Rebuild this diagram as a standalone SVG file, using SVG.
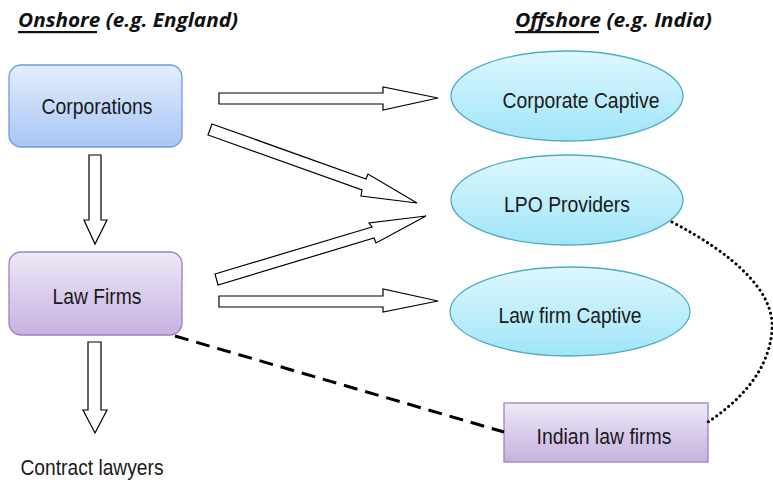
<svg xmlns="http://www.w3.org/2000/svg" width="773" height="486" viewBox="0 0 773 486">
<defs>
<linearGradient id="gBlue" x1="0" y1="0" x2="0" y2="1"><stop offset="0" stop-color="#e3edfd"/><stop offset="1" stop-color="#a8c6f6"/></linearGradient>
<linearGradient id="gPurple" x1="0" y1="0" x2="0" y2="1"><stop offset="0" stop-color="#efe9f7"/><stop offset="1" stop-color="#c6b1e0"/></linearGradient>
<linearGradient id="gCyan" x1="0" y1="0" x2="0" y2="1"><stop offset="0" stop-color="#def7fe"/><stop offset="1" stop-color="#a0e5f8"/></linearGradient>
<style>
.lbl{font-family:"Liberation Sans Narrow","Liberation Sans",Arial,sans-serif;font-size:22px;fill:#1a1a1a;text-anchor:middle}
.hdr{font-family:"Open Sans","DejaVu Sans",sans-serif;font-size:19px;font-weight:bold;font-style:italic;fill:#111}
.blk{fill:#fff;stroke:#000;stroke-width:1.2;stroke-linejoin:miter}
.ell{fill:url(#gCyan);stroke:#4bacc6;stroke-width:1.3}
</style>
</defs>

<g id="headers">
<text class="hdr" x="18" y="27" textLength="220" lengthAdjust="spacingAndGlyphs">Onshore (e.g. England)</text>
<rect x="18" y="31" width="79" height="2.2" fill="#111"/>
<text class="hdr" x="515" y="27" textLength="197" lengthAdjust="spacingAndGlyphs">Offshore (e.g. India)</text>
<rect x="515" y="31" width="84" height="2.2" fill="#111"/>
</g>

<g id="corporations">
<rect x="9" y="65" width="173" height="82" rx="12" fill="url(#gBlue)" stroke="#6f9bd9" stroke-width="1.3"/>
<text class="lbl" x="97" y="114" textLength="111" lengthAdjust="spacingAndGlyphs">Corporations</text>
</g>

<g id="lawfirms">
<rect x="9" y="252" width="173" height="83" rx="12" fill="url(#gPurple)" stroke="#9b81c6" stroke-width="1.3"/>
<text class="lbl" x="97" y="304" textLength="89" lengthAdjust="spacingAndGlyphs">Law Firms</text>
</g>

<g id="contract-lawyers">
<text class="lbl" x="92" y="475" textLength="143" lengthAdjust="spacingAndGlyphs">Contract lawyers</text>
</g>

<g id="corporate-captive">
<ellipse class="ell" cx="567" cy="96" rx="116" ry="45"/>
<text class="lbl" x="581" y="108" textLength="157" lengthAdjust="spacingAndGlyphs">Corporate Captive</text>
</g>

<g id="lpo-providers">
<ellipse class="ell" cx="567" cy="200" rx="116" ry="45"/>
<text class="lbl" x="567" y="212" textLength="126" lengthAdjust="spacingAndGlyphs">LPO Providers</text>
</g>

<g id="lawfirm-captive">
<ellipse class="ell" cx="570" cy="311.5" rx="120" ry="44.5"/>
<text class="lbl" x="570" y="323" textLength="143" lengthAdjust="spacingAndGlyphs">Law firm Captive</text>
</g>

<g id="indian-law-firms">
<rect x="504" y="403" width="204" height="59" fill="url(#gPurple)" stroke="#9b81c6" stroke-width="1.3"/>
<text class="lbl" x="604" y="444" textLength="135" lengthAdjust="spacingAndGlyphs">Indian law firms</text>
</g>

<g id="connectors">
<polygon class="blk" points="89,155 101,155 101,220 107,220 95,244 84,220 89,220"/>
<polygon class="blk" points="88,342 101,342 101,410 107,410 95,433 83,410 88,410"/>
<polygon class="blk" points="219,93 383,93 383,87 438,98 383,110 383,104 219,104"/>
<polygon class="blk" points="212,124 366,179 368,174 417,203 361,196 362,190 208,135"/>
<polygon class="blk" points="215,274 372,227 369,223 426,216 376,243 374,238 218,285"/>
<polygon class="blk" points="219,296 383,296 383,289 438,301 383,312 383,307 219,307"/>
<path d="M175,336 L504,432" fill="none" stroke="#000" stroke-width="3" stroke-dasharray="14,8"/>
<path d="M672,222 C735,255 775,292 772,330 C769,372 738,402 708,422" fill="none" stroke="#000" stroke-width="3" stroke-dasharray="0.1,5" stroke-linecap="round"/>
</g>
</svg>
